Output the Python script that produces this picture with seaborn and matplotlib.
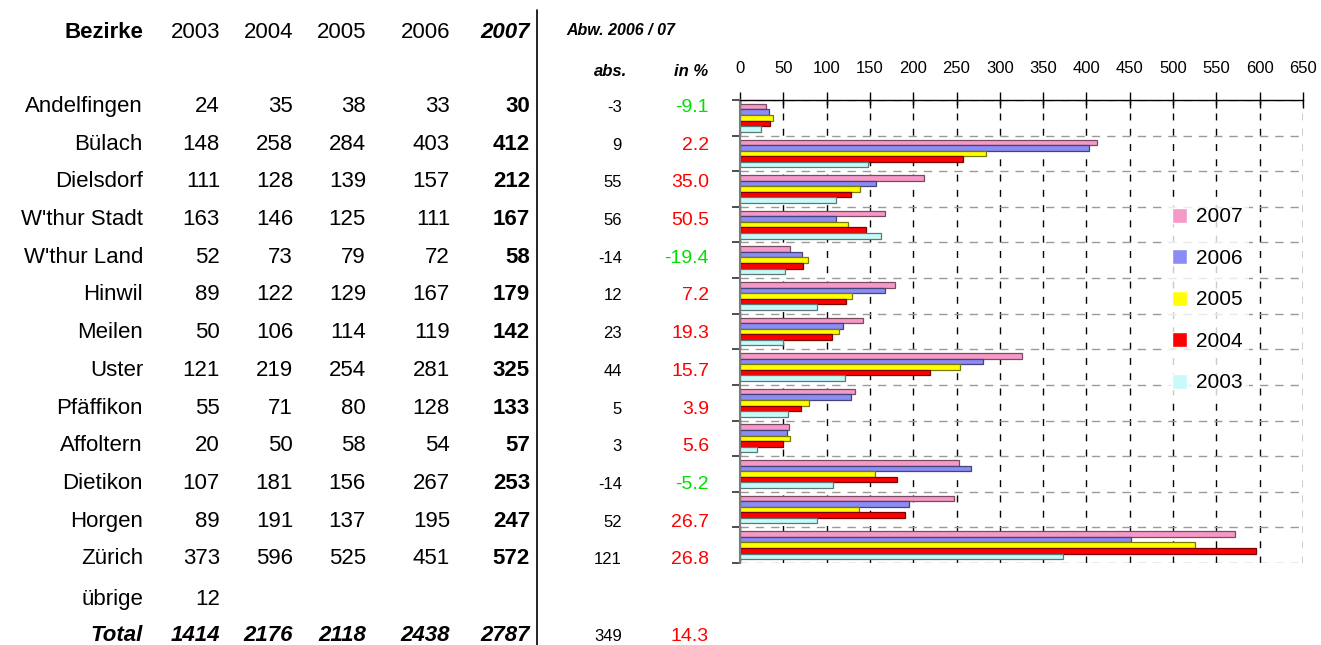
import numpy as np
import pandas as pd
import matplotlib
matplotlib.use("Agg")
import matplotlib.pyplot as plt
from matplotlib.lines import Line2D
import seaborn as sns

# ---------------- data ----------------
districts = ["Andelfingen", "Bülach", "Dielsdorf", "W'thur Stadt", "W'thur Land", "Hinwil",
             "Meilen", "Uster", "Pfäffikon", "Affoltern", "Dietikon", "Horgen", "Zürich"]
years = ["2003", "2004", "2005", "2006", "2007"]
v2003 = [24, 148, 111, 163, 52, 89, 50, 121, 55, 20, 107, 89, 373]
v2004 = [35, 258, 128, 146, 73, 122, 106, 219, 71, 50, 181, 191, 596]
v2005 = [38, 284, 139, 125, 79, 129, 114, 254, 80, 58, 156, 137, 525]
v2006 = [33, 403, 157, 111, 72, 167, 119, 281, 128, 54, 267, 195, 451]
v2007 = [30, 412, 212, 167, 58, 179, 142, 325, 133, 57, 253, 247, 572]
abs_diff = [-3, 9, 55, 56, -14, 12, 23, 44, 5, 3, -14, 52, 121]
pct_diff = [-9.1, 2.2, 35.0, 50.5, -19.4, 7.2, 19.3, 15.7, 3.9, 5.6, -5.2, 26.7, 26.8]
other_label = "übrige"
other_2003 = 12
totals = [1414, 2176, 2118, 2438, 2787]
total_abs = 349
total_pct = 14.3
x_ticks = list(range(0, 651, 50))

series = {"2003": v2003, "2004": v2004, "2005": v2005, "2006": v2006, "2007": v2007}
hue_order = ["2007", "2006", "2005", "2004", "2003"]
face = {"2007": "#F59AC8", "2006": "#8C8CF5", "2005": "#FFFF00", "2004": "#FF0000", "2003": "#C8FAFA"}
edge = {"2007": "#7A4A60", "2006": "#44447A", "2005": "#7A7A00", "2004": "#7A0000", "2003": "#5A7A7A"}

rows = []
for y in years:
    for d, v in zip(districts, series[y]):
        rows.append({"Bezirk": d, "Jahr": y, "Wert": v})
df = pd.DataFrame(rows)

# ---------------- figure ----------------
sns.set_theme(style="white")
plt.rcParams["font.family"] = ["Liberation Sans", "DejaVu Sans"]
plt.rcParams["text.color"] = "black"
plt.rcParams["xtick.color"] = "black"
plt.rcParams["ytick.color"] = "black"
plt.rcParams["axes.labelcolor"] = "black"

W, H = 1321, 645
fig = plt.figure(figsize=(W / 100, H / 100), dpi=100)
fig.patch.set_facecolor("white")

def P(x, y):
    return (x / W, 1 - y / H)

ax = fig.add_axes([740 / W, 1 - 563 / H, (1303 - 740) / W, (563 - 100) / H])
sns.barplot(data=df, x="Wert", y="Bezirk", hue="Jahr", hue_order=hue_order, order=districts,
            orient="h", palette=face, saturation=1, width=0.78, ax=ax, legend=True)
for cont, y in zip(ax.containers, hue_order):
    for p in cont.patches:
        p.set_edgecolor(edge[y])
        p.set_linewidth(0.9)

ax.set_xlim(0, 650)
ax.set_ylim(12.5, -0.5)
ax.set_xlabel("")
ax.set_ylabel("")
ax.xaxis.tick_top()
ax.set_xticks(x_ticks)
ax.set_xticklabels([str(t) for t in x_ticks])
ax.tick_params(axis="x", which="major", direction="inout", length=12, width=1, color="black",
               labelsize=12, pad=11.5, labelcolor="black")
ax.set_yticks([])
ax.set_yticks(np.arange(-0.5, 13, 1), minor=True)
ax.tick_params(axis="y", which="minor", direction="out", length=6, width=1.2, color="#303030", left=True)
ax.set_axisbelow(True)
ax.grid(False)
ax.grid(axis="x", which="major", color="black", linestyle=(0, (5, 6)), linewidth=1)
ax.grid(axis="y", which="minor", color="#9A9A9A", linestyle=(0, (6, 5)), linewidth=1)
for s in ["right", "bottom"]:
    ax.spines[s].set_visible(False)
ax.spines["top"].set_color("black")
ax.spines["top"].set_linewidth(1)
ax.spines["left"].set_color("#7A7A7A")
ax.spines["left"].set_linewidth(1.5)

handles, labels = ax.get_legend_handles_labels()
ax.legend(handles, labels, loc="center", bbox_to_anchor=P(1207, 300), bbox_transform=fig.transFigure,
          fontsize=15, frameon=True, facecolor="white", edgecolor="none", fancybox=False,
          handlelength=0.75, handleheight=0.75, handletextpad=0.4, labelspacing=1.08,
          borderpad=0.3)

# ---------------- table ----------------
FS = 16
col_right = [220, 293, 366, 450, 530]
name_right = 143
hdr_base = 38
row_base = [112 + i * 37.7 for i in range(len(districts))]

fig.text(*P(name_right, hdr_base), "Bezirke", ha="right", va="baseline", fontsize=FS, fontweight="bold")
for j, y in enumerate(years):
    if y == "2007":
        fig.text(*P(col_right[j], hdr_base), y, ha="right", va="baseline", fontsize=FS,
                 fontweight="bold", fontstyle="italic")
    else:
        fig.text(*P(col_right[j], hdr_base), y, ha="right", va="baseline", fontsize=FS)

fig.text(*P(566, 35), "Abw. 2006 / 07", ha="left", va="baseline", fontsize=11.5,
         fontweight="bold", fontstyle="italic")
fig.text(*P(611, 76), "abs.", ha="center", va="baseline", fontsize=12, fontweight="bold", fontstyle="italic")
fig.text(*P(708, 76), "in %", ha="right", va="baseline", fontsize=12, fontweight="bold", fontstyle="italic")

for i, d in enumerate(districts):
    yb = row_base[i]
    fig.text(*P(name_right, yb), d, ha="right", va="baseline", fontsize=FS)
    for j, y in enumerate(years):
        v = series[y][i]
        if y == "2007":
            fig.text(*P(col_right[j], yb), str(v), ha="right", va="baseline", fontsize=FS, fontweight="bold")
        else:
            fig.text(*P(col_right[j], yb), str(v), ha="right", va="baseline", fontsize=FS)
    fig.text(*P(622, yb), str(abs_diff[i]), ha="right", va="baseline", fontsize=12)
    pc = pct_diff[i]
    fig.text(*P(709, yb), f"{pc:.1f}", ha="right", va="baseline", fontsize=14,
             color="#00E000" if pc < 0 else "#FF0000")

fig.text(*P(name_right, 605), other_label, ha="right", va="baseline", fontsize=FS)
fig.text(*P(col_right[0], 605), str(other_2003), ha="right", va="baseline", fontsize=FS)

tb = 641
fig.text(*P(name_right, tb), "Total", ha="right", va="baseline", fontsize=FS, fontweight="bold", fontstyle="italic")
for j, t in enumerate(totals):
    fig.text(*P(col_right[j], tb), str(t), ha="right", va="baseline", fontsize=FS,
             fontweight="bold", fontstyle="italic")
fig.text(*P(622, tb), str(total_abs), ha="right", va="baseline", fontsize=12)
fig.text(*P(709, tb), f"{total_pct:.1f}", ha="right", va="baseline", fontsize=14, color="#FF0000")

fig.add_artist(Line2D([537 / W, 537 / W], [1 - 10 / H, 0], transform=fig.transFigure,
                      color="black", linewidth=1.2))

fig.savefig("out.png", dpi=100, facecolor="white")
